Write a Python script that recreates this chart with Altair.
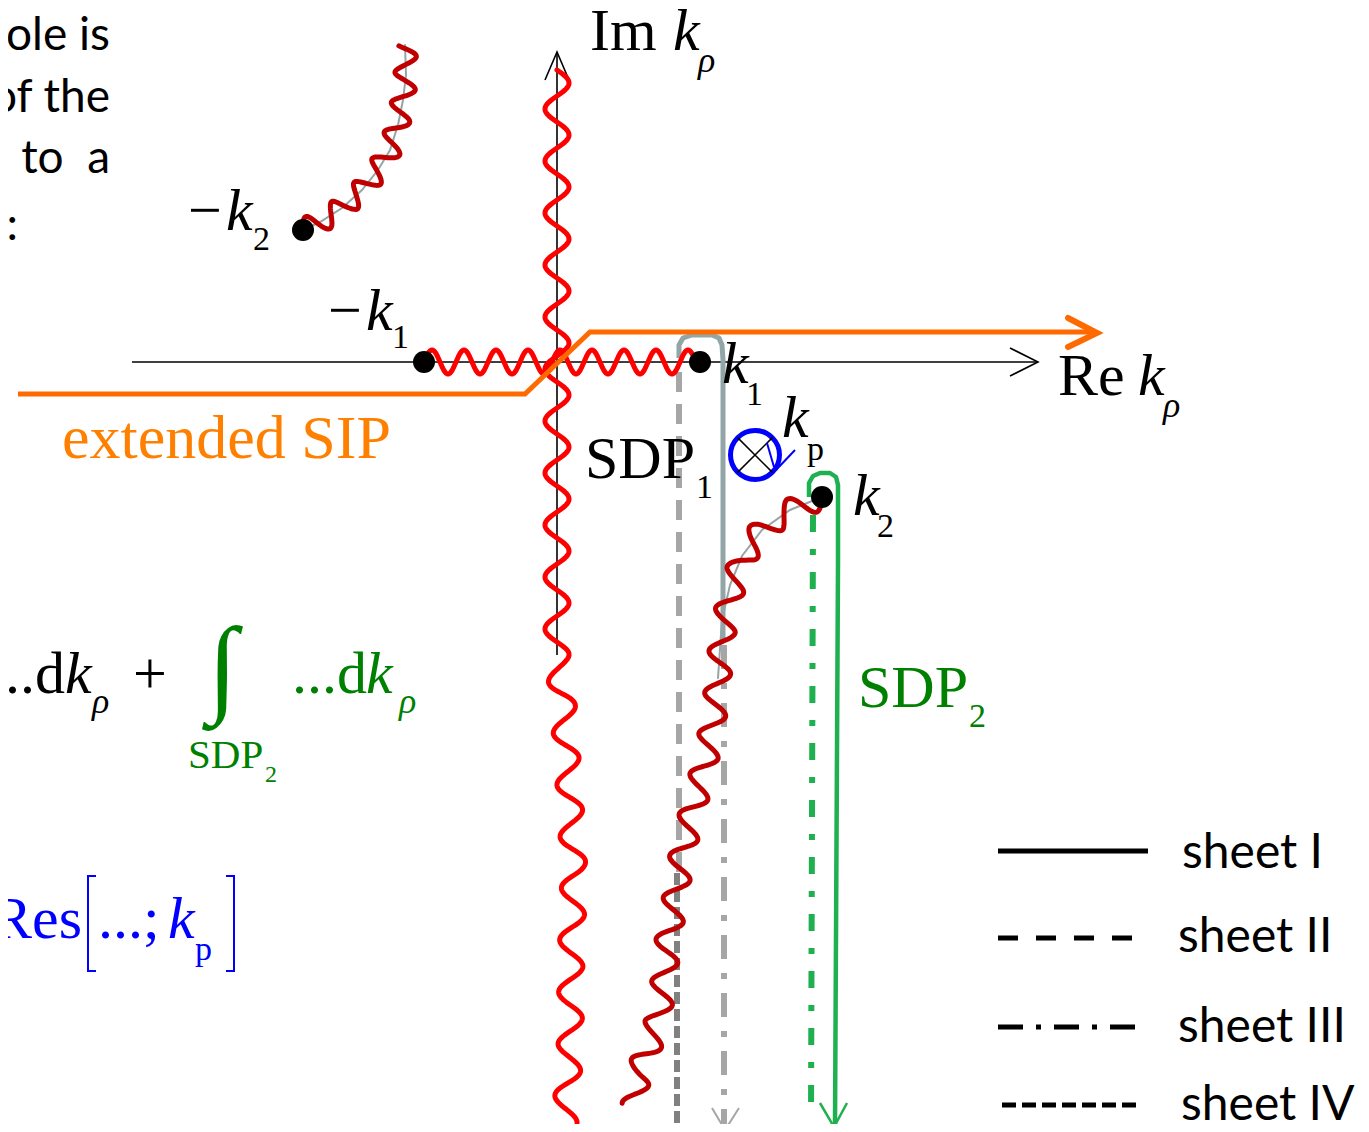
import altair as alt
import numpy as np
import pandas as pd

# ---------------- plane window (Re k_rho , Im k_rho) ----------------
X_DOMAIN = [-5.49, 8.04]
Y_DOMAIN = [-7.62, 3.54]
W, H = 1353, 1116

# ---------------- axes ----------------
re_axis_re = [-4.25, 4.81]
re_axis_im = [0.0, 0.0]
re_head_re = [4.53, 4.81, 4.53]
re_head_im = [0.14, 0.0, -0.14]
im_axis_re = [0.0, 0.0]
im_axis_im = [-2.93, 3.10]
im_head_re = [-0.12, 0.0, 0.12]
im_head_im = [2.82, 3.10, 2.82]

# ---------------- branch points and pole ----------------
branch_re = [-2.54, -1.33, 1.43, 2.65]
branch_im = [1.32, 0.0, 0.0, -1.35]
pole_re = [1.98]
pole_im = [-0.93]
pole_tail_re = [2.10, 2.17, 2.19, 2.38]
pole_tail_im = [-0.81, -1.05, -1.08, -0.88]
pole_tail_g = [0, 0, 1, 1]

# ---------------- extended SIP ----------------
sip_re = [-5.39, -0.32, 0.33, 5.38]
sip_im = [-0.32, -0.32, 0.30, 0.30]
sip_head_re = [5.11, 5.40, 5.11]
sip_head_im = [0.44, 0.29, 0.15]

# ---------------- branch cuts (centre lines) ----------------
cut_h_re = [-1.33, 1.43]
cut_h_im = [0.0, 0.0]
cut_v_re = [0.0, 0.0, 0.06, 0.13, 0.17, 0.14, 0.13, 0.08]
cut_v_im = [2.92, -2.93, -3.38, -4.38, -5.08, -5.98, -6.88, -7.61]
cut_k2_re = [2.65, 2.43, 2.21, 2.01, 1.85, 1.75, 1.67, 1.63, 1.59, 1.53,
             1.45, 1.33, 1.24, 1.18, 1.11, 1.07, 1.01, 0.91, 0.81, 0.77]
cut_k2_im = [-1.35, -1.44, -1.56, -1.73, -1.98, -2.28, -2.63, -2.98, -3.38, -3.78,
             -4.13, -4.58, -4.98, -5.38, -5.78, -6.18, -6.58, -6.88, -7.13, -7.43]
cut_mk2_re = [-2.54, -2.37, -2.15, -1.95, -1.79, -1.67, -1.59, -1.54, -1.51, -1.52]
cut_mk2_im = [1.32, 1.40, 1.54, 1.72, 1.92, 2.12, 2.37, 2.62, 2.87, 3.17]
# thin grey hyperbolic guide curves
guide_k2_re = [2.65, 2.33, 2.05, 1.85, 1.73, 1.65, 1.61]
guide_k2_im = [-1.35, -1.48, -1.68, -1.94, -2.23, -2.58, -3.16]

# ---------------- steepest descent paths ----------------
sdp1_I_re = [1.22, 1.22, 1.26, 1.35, 1.55, 1.62, 1.65, 1.66, 1.66]
sdp1_I_im = [0.04, 0.17, 0.24, 0.27, 0.27, 0.24, 0.17, 0.02, -2.80]
sdp1_II_re = [1.22, 1.22]
sdp1_II_im = [-0.10, -5.11]
sdp1_IV_re = [1.20, 1.20]
sdp1_IV_im = [-5.11, -7.70]
sdp1_III_re = [1.67, 1.67]
sdp1_III_im = [-2.83, -7.64]
sdp1_head_re = [1.55, 1.68, 1.82]
sdp1_head_im = [-7.46, -7.68, -7.46]

sdp2_I_re = [2.52, 2.52, 2.56, 2.63, 2.73, 2.79, 2.81, 2.81, 2.78]
sdp2_I_im = [-1.35, -1.21, -1.14, -1.11, -1.11, -1.15, -1.23, -2.00, -7.63]
sdp2_III_re = [2.56, 2.54]
sdp2_III_im = [-1.53, -7.56]
sdp2_head_re = [2.63, 2.77, 2.90]
sdp2_head_im = [-7.41, -7.65, -7.41]

# ---------------- brackets of Res[...] ----------------
brk_re = [-4.61, -4.69, -4.69, -4.61, -3.31, -3.23, -3.23, -3.31]
brk_im = [-5.14, -5.14, -6.09, -6.09, -5.14, -5.14, -6.09, -6.09]
brk_g = [0, 0, 0, 0, 1, 1, 1, 1]

# ---------------- legend ----------------
legend_labels = ["sheet I", "sheet II", "sheet III", "sheet IV"]
legend_line_re0 = [4.41, 4.41, 4.41, 4.45]
legend_line_re1 = [5.91, 5.75, 5.80, 5.80]
legend_line_im = [-4.89, -5.76, -6.65, -7.43]
legend_text_re = [6.25, 6.21, 6.21, 6.24]
legend_text_im = [-5.06, -5.90, -6.80, -7.58]

# ---------------- text labels ----------------
lab_big_txt = ["Im", "Re", "SDP", "\u2212", "\u2212", "..d", "+"]
lab_big_re = [0.33, 5.01, 0.28, -3.69, -2.29, -5.52, -4.24]
lab_big_im = [3.12, -0.33, -1.16, 1.32, 0.32, -3.31, -3.31]
lab_sub_txt = ["1", "2", "1", "1", "p", "2"]
lab_sub_re = [1.39, -3.04, -1.65, 1.89, 2.50, 3.20]
lab_sub_im = [-1.36, 1.12, 0.14, -0.43, -0.98, -1.75]
lab_k_re = [1.16, 5.81, -3.31, -1.91, 1.65, 2.25, 2.96, -4.92]
lab_k_im = [3.12, -0.33, 1.32, 0.32, -0.21, -0.75, -1.53, -3.31]
lab_rho_re = [1.41, 6.06, -4.65]
lab_rho_im = [2.90, -0.55, -3.51]

green_big_txt = ["...d", "SDP"]
green_big_re = [-2.65, 3.01]
green_big_im = [-3.31, -3.45]
green_sub_txt = ["2"]
green_sub_re = [4.12]
green_sub_im = [-3.65]
green_int_re = [-3.49]
green_int_im = [-3.40]
green_k_re = [-1.91]
green_k_im = [-3.31]
green_rho_re = [-1.58]
green_rho_im = [-3.51]
green_small_txt = ["SDP"]
green_small_re = [-3.69]
green_small_im = [-4.06]
green_tiny_txt = ["2"]
green_tiny_re = [-2.92]
green_tiny_im = [-4.20]

blue_big_txt = ["Res", "...;"]
blue_big_re = [-5.65, -4.59]
blue_big_im = [-5.76, -5.76]
blue_k_re = [-3.89]
blue_k_im = [-5.76]
blue_sub_re = [-3.62]
blue_sub_im = [-5.98]

sip_label_re = [-4.95]
sip_label_im = [-0.96]

side_txt = ["ole is", "of the", "to\u00a0\u00a0a", ":"]
side_re = [-4.47, -4.47, -4.47, -5.39]
side_im = [3.12, 2.50, 1.89, 1.22]

# ======================================================================
XS = alt.Scale(domain=X_DOMAIN, nice=False, zero=False)
YS = alt.Scale(domain=Y_DOMAIN, nice=False, zero=False)
X = alt.X("x:Q", scale=XS, axis=None)
Y = alt.Y("y:Q", scale=YS, axis=None)

SERIF = "Liberation Serif"
SANS = "Lato"


def pdf(re, im, g=None):
    return pd.DataFrame({"x": list(re), "y": list(im), "o": list(range(len(re))),
                         "g": list(g) if g is not None else [0] * len(re)})


def line(df, color, width, dash=None, cap="butt", join="miter"):
    kw = dict(color=color, strokeWidth=width, strokeCap=cap, strokeJoin=join)
    if dash is not None:
        kw["strokeDash"] = dash
    return alt.Chart(df).mark_line(**kw).encode(x=X, y=Y, order="o:Q", detail="g:N")


def wavy(re, im, lam, amp, step=0.01):
    p = np.column_stack([re, im]).astype(float)
    seg = np.hypot(*np.diff(p, axis=0).T)
    s = np.concatenate([[0], np.cumsum(seg)])
    ss = np.arange(0, s[-1] + 1e-9, step)
    x = np.interp(ss, s, p[:, 0])
    y = np.interp(ss, s, p[:, 1])
    k = 8
    xp = np.pad(x, k, mode="edge")
    yp = np.pad(y, k, mode="edge")
    tx = xp[2 * k:] - xp[:-2 * k]
    ty = yp[2 * k:] - yp[:-2 * k]
    n = np.hypot(tx, ty)
    n[n == 0] = 1
    off = amp * np.sin(2 * np.pi * ss / lam)
    return x - ty / n * off, y + tx / n * off


def text(txt, re, im, size, color, font=SERIF, style="normal", align="left"):
    df = pd.DataFrame({"x": re, "y": im, "t": txt})
    return alt.Chart(df).mark_text(font=font, fontSize=size, fontStyle=style, color=color,
                                   align=align, baseline="alphabetic").encode(x=X, y=Y, text="t:N")


layers = []
# axes
layers.append(line(pdf(re_axis_re, re_axis_im), "black", 1.6))
layers.append(line(pdf(re_head_re, re_head_im), "black", 1.6))
layers.append(line(pdf(im_axis_re, im_axis_im), "black", 1.6))
layers.append(line(pdf(im_head_re, im_head_im), "black", 1.6))

# thin grey guide curves
layers.append(line(pdf(guide_k2_re, guide_k2_im), "#95A5A6", 2, cap="round"))
layers.append(line(pdf(cut_mk2_re, cut_mk2_im), "#95A5A6", 2, cap="round"))

# SDP1 (grey)
layers.append(line(pdf(sdp1_II_re, sdp1_II_im), "#A6A6A6", 6, dash=[20, 12]))
layers.append(line(pdf(sdp1_IV_re, sdp1_IV_im), "#808080", 6, dash=[12, 5]))
layers.append(line(pdf(sdp1_III_re, sdp1_III_im), "#A6A6A6", 6, dash=[24, 14, 6, 14]))
layers.append(line(pdf(sdp1_head_re, sdp1_head_im), "#A6A6A6", 2))
layers.append(line(pdf(sdp1_I_re, sdp1_I_im), "#92A6A8", 5, join="round"))

# SDP2 (green)
layers.append(line(pdf(sdp2_III_re, sdp2_III_im), "#1FB050", 6, dash=[17, 17, 6, 17]))
layers.append(line(pdf(sdp2_I_re, sdp2_I_im), "#1FB050", 4.5, join="round"))
layers.append(line(pdf(sdp2_head_re, sdp2_head_im), "#1FB050", 2.5))

# branch cuts (wavy)
wx, wy = wavy(cut_h_re, cut_h_im, 0.32, 0.12)
layers.append(line(pdf(wx, wy), "#FF0000", 5, cap="round", join="round"))
wx, wy = wavy(cut_v_re, cut_v_im, 0.52, 0.12)
layers.append(line(pdf(wx, wy), "#FF0000", 5, cap="round", join="round"))
wx, wy = wavy(cut_k2_re, cut_k2_im, 0.42, 0.12)
layers.append(line(pdf(wx, wy), "#C00000", 5, cap="round", join="round"))
wx, wy = wavy(cut_mk2_re, cut_mk2_im, 0.32, 0.11)
layers.append(line(pdf(wx, wy), "#C00000", 5, cap="round", join="round"))

# extended SIP
layers.append(line(pdf(sip_re, sip_im), "#FF6A00", 5))
layers.append(line(pdf(sip_head_re, sip_head_im), "#FF6A00", 6, cap="round"))

# branch points
layers.append(alt.Chart(pdf(branch_re, branch_im)).mark_circle(size=484, color="black", opacity=1)
              .encode(x=X, y=Y))

# pole
pole_df = pdf(pole_re, pole_im)
layers.append(alt.Chart(pole_df).mark_point(shape="circle", size=2400, filled=False,
                                            color="#0000FF", strokeWidth=5, opacity=1).encode(x=X, y=Y))
layers.append(alt.Chart(pole_df).mark_point(shape="M-0.72,-0.72L0.72,0.72M-0.72,0.72L0.72,-0.72",
                                            size=2400, filled=False, color="black",
                                            strokeWidth=1.5, opacity=1).encode(x=X, y=Y))
layers.append(line(pdf(pole_tail_re, pole_tail_im, pole_tail_g), "#0000FF", 2))

# brackets
layers.append(line(pdf(brk_re, brk_im, brk_g), "#0000FF", 2))

# legend lines
leg_styles = [None, [20, 18], [25, 13, 5, 13], [14, 6]]
for i in range(4):
    layers.append(line(pdf([legend_line_re0[i], legend_line_re1[i]],
                           [legend_line_im[i], legend_line_im[i]]), "black", 5, dash=leg_styles[i]))
layers.append(text(legend_labels, legend_text_re, legend_text_im, 48, "black", font=SANS))

# labels
layers.append(text(lab_big_txt, lab_big_re, lab_big_im, 60, "black"))
layers.append(text(lab_sub_txt, lab_sub_re, lab_sub_im, 34, "black"))
layers.append(text(["k"] * len(lab_k_re), lab_k_re, lab_k_im, 60, "black", style="italic"))
layers.append(text(["\u03c1"] * len(lab_rho_re), lab_rho_re, lab_rho_im, 36, "black", style="italic"))

layers.append(text(green_big_txt, green_big_re, green_big_im, 60, "#008000"))
layers.append(text(green_sub_txt, green_sub_re, green_sub_im, 34, "#008000"))
layers.append(text(["\u222b"], green_int_re, green_int_im, 108, "#008000"))
layers.append(text(["k"], green_k_re, green_k_im, 60, "#008000", style="italic"))
layers.append(text(["\u03c1"], green_rho_re, green_rho_im, 36, "#008000", style="italic"))
layers.append(text(green_small_txt, green_small_re, green_small_im, 41, "#008000"))
layers.append(text(green_tiny_txt, green_tiny_re, green_tiny_im, 24, "#008000"))

layers.append(text(blue_big_txt, blue_big_re, blue_big_im, 60, "#0000FF"))
layers.append(text(["k"], blue_k_re, blue_k_im, 60, "#0000FF", style="italic"))
layers.append(text(["p"], blue_sub_re, blue_sub_im, 34, "#0000FF"))

layers.append(text(["extended SIP"], sip_label_re, sip_label_im, 62, "#FF8000"))
layers.append(text(side_txt, side_re, side_im, 46, "black", font=SANS, align="right"))

chart = alt.layer(*layers).properties(
    width=W, height=H, padding=0, autosize=alt.AutoSizeParams(type="none")
).configure_view(stroke=None)

chart.save("out.html", embed_options={"renderer": "svg", "actions": False})
